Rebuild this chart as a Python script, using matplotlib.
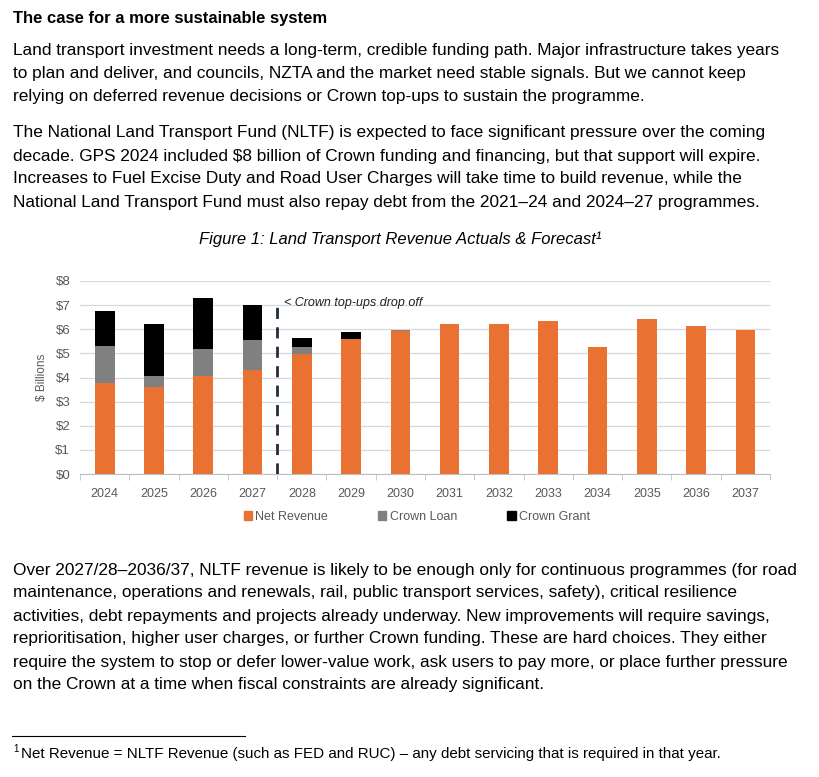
import numpy as np
import matplotlib.pyplot as plt
from matplotlib.patches import Patch

# ===============================
# Data
# ===============================
years = ["2024", "2025", "2026", "2027", "2028", "2029", "2030",
         "2031", "2032", "2033", "2034", "2035", "2036", "2037"]
net_revenue = [3.76, 3.60, 4.06, 4.30, 4.96, 5.58, 5.93,
               6.21, 6.21, 6.36, 5.25, 6.42, 6.12, 5.98]
crown_loan = [1.53, 0.48, 1.11, 1.25, 0.30, 0.00, 0.05,
              0, 0, 0, 0, 0, 0, 0]
crown_grant = [1.45, 2.12, 2.13, 1.45, 0.36, 0.30, 0.00,
               0, 0, 0, 0, 0, 0, 0]
y_ticks = [0, 1, 2, 3, 4, 5, 6, 7, 8]

ORANGE = "#E97132"
GREY = "#808080"
BLACK = "#000000"
TXT = "#595959"

W, H = 819, 777
fig = plt.figure(figsize=(W / 100, H / 100), dpi=100)

body_font = ["Liberation Sans", "DejaVu Sans"]
chart_font = ["Liberation Sans", "DejaVu Sans"]


def put(x, y, s, **kw):
    # place text using pixel coordinates from the top-left
    fig.text(x / W, 1 - y / H, s, **kw)


# ===============================
# Text above the chart
# ===============================
put(13, 19, "The case for a more sustainable system", fontsize=12,
    fontweight="bold", family=body_font, va="center")

para1 = [
    "Land transport investment needs a long-term, credible funding path. Major infrastructure takes years",
    "to plan and deliver, and councils, NZTA and the market need stable signals. But we cannot keep",
    "relying on deferred revenue decisions or Crown top-ups to sustain the programme.",
]
for i, line in enumerate(para1):
    put(13, 50 + i * 23.5, line, fontsize=12.4, family=body_font, va="center")

para2 = [
    "The National Land Transport Fund (NLTF) is expected to face significant pressure over the coming",
    "decade. GPS 2024 included $8 billion of Crown funding and financing, but that support will expire.",
    "Increases to Fuel Excise Duty and Road User Charges will take time to build revenue, while the",
    "National Land Transport Fund must also repay debt from the 2021\u201324 and 2024\u201327 programmes.",
]
for i, line in enumerate(para2):
    put(13, 133 + i * 23, line, fontsize=12.4, family=body_font, va="center")

put(400, 239, "Figure 1: Land Transport Revenue Actuals & Forecast\u00b9",
    fontsize=12, style="italic", family=chart_font, ha="center", va="center")

# ===============================
# Stacked bar chart
# ===============================
ax = fig.add_axes([80 / W, 1 - 474 / H, 690 / W, (474 - 281) / H])
x = np.arange(len(years))
loan_bottom = np.array(net_revenue)
grant_bottom = loan_bottom + np.array(crown_loan)

ax.bar(x, net_revenue, width=0.4, color=ORANGE, zorder=3)
ax.bar(x, crown_loan, width=0.4, bottom=loan_bottom, color=GREY, zorder=3)
ax.bar(x, crown_grant, width=0.4, bottom=grant_bottom, color=BLACK, zorder=3)

ax.set_xlim(-0.5, len(years) - 0.5)
ax.set_ylim(0, 8)
ax.set_yticks(y_ticks)
ax.set_yticklabels([f"${v}" for v in y_ticks], fontsize=9.5, color=TXT,
                   family=chart_font)
ax.set_xticks(x)
ax.set_xticklabels(years, fontsize=9, color=TXT, family=chart_font)
ax.set_xticks(np.arange(len(years) + 1) - 0.5, minor=True)
ax.tick_params(axis="x", which="major", length=0, pad=10)
ax.tick_params(axis="x", which="minor", length=4, color="#bfbfbf")
ax.tick_params(axis="y", length=0, pad=7)
ax.grid(axis="y", color="#d9d9d9", linewidth=0.9, zorder=0)
for side in ["top", "right", "left"]:
    ax.spines[side].set_visible(False)
ax.spines["bottom"].set_color("#bfbfbf")
ax.set_ylabel("$ Billions", fontsize=8.5, color=TXT, family=chart_font,
              labelpad=5)

# marker for the end of Crown support
ax.plot([3.5, 3.5], [0, 7.2], linestyle=(0, (4, 3)), color="#1f2d3d",
        linewidth=2, zorder=4)
ax.text(3.63, 7.1, "< Crown top-ups drop off", fontsize=9, style="italic",
        family=chart_font, va="center", color="#222222")

handles = [Patch(color=ORANGE, label="Net Revenue"),
           Patch(color=GREY, label="Crown Loan"),
           Patch(color=BLACK, label="Crown Grant")]
leg = fig.legend(handles=handles, loc="center", bbox_to_anchor=(417 / W, 1 - 517 / H),
                 ncol=3, frameon=False, fontsize=9, handlelength=0.65,
                 handleheight=0.65, handletextpad=0.3, columnspacing=4)
for t in leg.get_texts():
    t.set_color(TXT)
    t.set_family(chart_font)

# ===============================
# Text below the chart
# ===============================
para3 = [
    "Over 2027/28\u20132036/37, NLTF revenue is likely to be enough only for continuous programmes (for road",
    "maintenance, operations and renewals, rail, public transport services, safety), critical resilience",
    "activities, debt repayments and projects already underway. New improvements will require savings,",
    "reprioritisation, higher user charges, or further Crown funding. These are hard choices. They either",
    "require the system to stop or defer lower-value work, ask users to pay more, or place further pressure",
    "on the Crown at a time when fiscal constraints are already significant.",
]
for i, line in enumerate(para3):
    put(13, 570 + i * 23, line, fontsize=12.4, family=body_font, va="center")

fig.add_artist(plt.Line2D([12 / W, 245 / W], [1 - 736 / H, 1 - 736 / H],
                          color="black", linewidth=0.8))
put(13, 749, "1", fontsize=7, family=body_font, va="center")
put(21, 754, "Net Revenue = NLTF Revenue (such as FED and RUC) \u2013 any debt servicing that is required in that year.",
    fontsize=10.9, family=body_font, va="center")

fig.savefig("out.png", dpi=100, facecolor="white")
